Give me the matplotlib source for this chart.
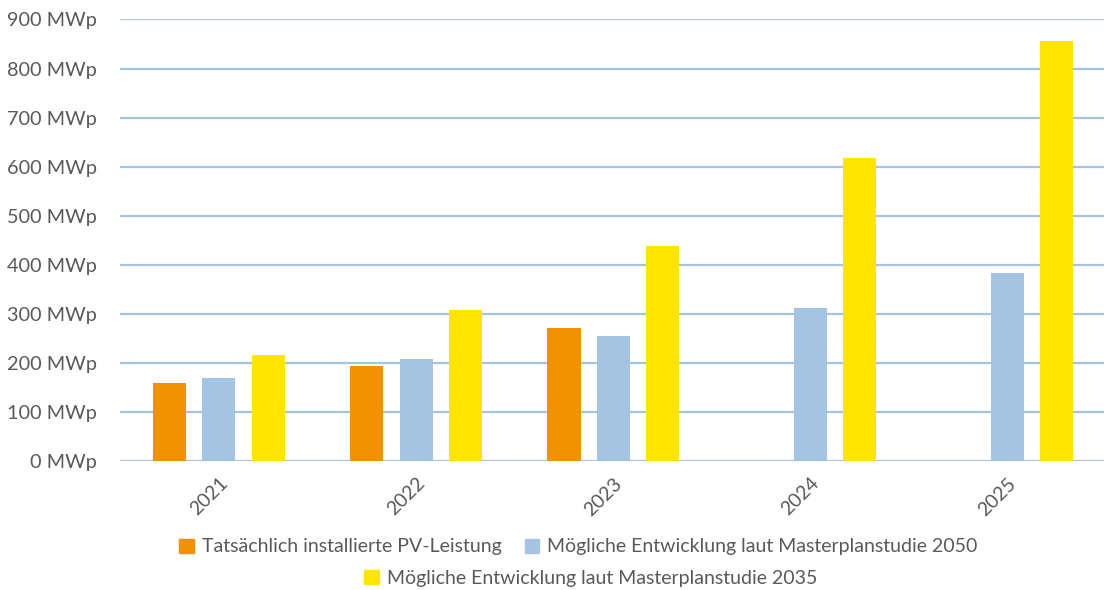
import numpy as np
import matplotlib.pyplot as plt
from matplotlib.patches import Patch

years = ['2021', '2022', '2023', '2024', '2025']
installiert = [159, 194, 271, np.nan, np.nan]
studie_2050 = [169, 208, 255, 312, 382]
studie_2035 = [216, 308, 439, 618, 857]

labels = ['Tatsächlich installierte PV-Leistung',
          'Mögliche Entwicklung laut Masterplanstudie 2050',
          'Mögliche Entwicklung laut Masterplanstudie 2035']
colors = ['#F39200', '#A5C4E2', '#FFE500']

plt.rcParams['font.family'] = ['Lato', 'DejaVu Sans']
txt = '#595959'

fig = plt.figure(figsize=(11.04, 5.9), dpi=100)
ax = fig.add_axes([0.109, 0.219, 0.893, 0.748])

x = np.arange(len(years))
w = 0.168
for i, (vals, c) in enumerate(zip([installiert, studie_2050, studie_2035], colors)):
    ax.bar(x + (i - 1) * 0.25, vals, w, color=c, zorder=3)

ax.set_xlim(-0.5, len(years) - 0.5)
ax.set_ylim(0, 900)
ax.set_yticks(range(0, 901, 100))
ax.set_yticklabels([f'{v} MWp' for v in range(0, 901, 100)], fontsize=14.3, color=txt)
ax.yaxis.grid(True, color='#A5C4E2', linewidth=1.6, zorder=0)
ax.tick_params(axis='y', length=0, pad=17)
ax.set_xticks(x)
ax.set_xticklabels(years, rotation=45, ha='right', rotation_mode='anchor', fontsize=14, color=txt)
ax.tick_params(axis='x', length=0, pad=10)
for s in ax.spines.values():
    s.set_visible(False)

handles = [Patch(color=c) for c in colors]
leg_kw = dict(frameon=False, fontsize=14, handlelength=0.75, handleheight=0.75,
              handletextpad=0.4, columnspacing=1.2, labelcolor=txt)
fig.legend(handles[:2], labels[:2], ncol=2, loc='center', bbox_to_anchor=(0.524, 0.073), **leg_kw)
fig.legend(handles[2:], labels[2:], loc='center', bbox_to_anchor=(0.535, 0.02), **leg_kw)

fig.savefig('out.png', dpi=100)
